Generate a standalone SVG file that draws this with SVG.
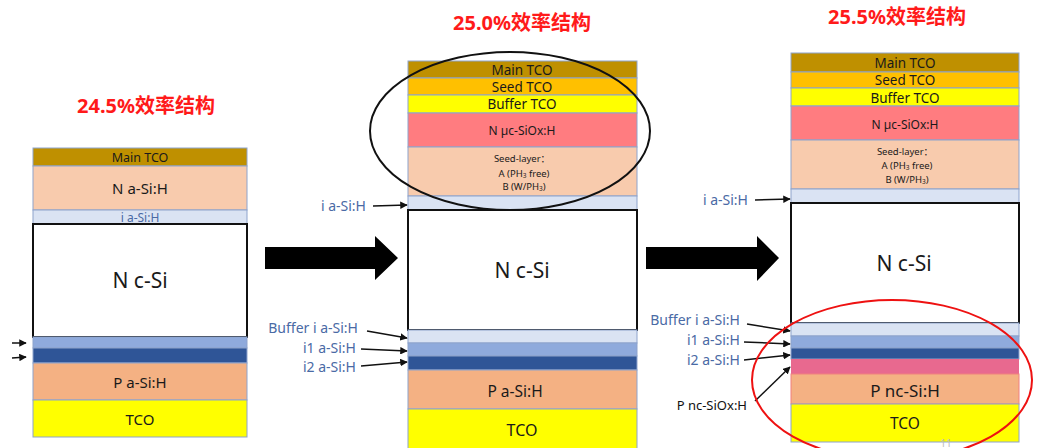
<svg xmlns="http://www.w3.org/2000/svg" width="1037" height="448" viewBox="0 0 1037 448">
<style>
text{font-family:"Noto Sans","Open Sans","Noto Sans CJK SC",sans-serif;text-anchor:middle;dominant-baseline:central;fill:#1a1a1a}
.title{font-size:20px;font-weight:bold;fill:#ff1a1a}
.ly{stroke:#8ea3cc;stroke-width:1}
.cs{fill:#fff;stroke:#111;stroke-width:2}
.lb{fill:#4a6aa5;text-anchor:end;font-size:14px}
.t11{font-size:12px}
.t12{font-size:13.5px}
.t13{font-size:15px}
.t14{font-size:16px}
.t9{font-size:9.5px}
.big{font-size:21px}
.ln{stroke:#111;stroke-width:1.5;fill:none;marker-end:url(#ah)}
</style>
<defs>
<marker id="ah" viewBox="0 0 10 10" refX="9" refY="5" markerWidth="5" markerHeight="5" orient="auto"><path d="M0,0 L10,5 L0,10 z" fill="#111"/></marker>
</defs>
<rect width="1037" height="448" fill="#fff"/>

<g id="stack1">
<text class="title" x="146" y="105">24.5%效率结构</text>
<rect class="ly" x="33" y="148" width="214" height="18" fill="#bf9000"/>
<text x="140" y="157" style="font-size:12.5px">Main TCO</text>
<rect class="ly" x="33" y="166" width="214" height="44" fill="#f8cbad"/>
<text class="t13" x="140" y="188">N a-Si:H</text>
<rect class="ly" x="33" y="210" width="214" height="14" fill="#dae3f3"/>
<text x="140" y="217" style="fill:#4a6aa5;font-size:12px">i a-Si:H</text>
<rect class="cs" x="33" y="224" width="214" height="113"/>
<text class="big" x="140" y="280">N c-Si</text>
<rect class="ly" x="33" y="337" width="214" height="11" fill="#8faadc"/>
<rect class="ly" x="33" y="348" width="214" height="15" fill="#2f5597"/>
<rect class="ly" x="33" y="363" width="214" height="37" fill="#f4b183"/>
<text class="t13" x="140" y="382">P a-Si:H</text>
<rect class="ly" x="33" y="400" width="214" height="37" fill="#ffff00"/>
<text class="t13" x="140" y="419">TCO</text>
</g>

<g id="stack2">
<text class="title" x="522" y="22">25.0%效率结构</text>
<rect class="ly" x="408" y="61" width="229" height="17" fill="#bf9000"/>
<text class="t12" x="522" y="70">Main TCO</text>
<rect class="ly" x="408" y="78" width="229" height="17" fill="#ffc000"/>
<text class="t12" x="522" y="87">Seed TCO</text>
<rect class="ly" x="408" y="95" width="229" height="18" fill="#ffff00"/>
<text class="t12" x="522" y="104">Buffer TCO</text>
<rect class="ly" x="408" y="113" width="229" height="34" fill="#ff7c80"/>
<text class="t11" x="522" y="130">N µc-SiOx:H</text>
<rect class="ly" x="408" y="147" width="229" height="49" fill="#f8cbad"/>
<text class="t9" x="522" y="158">Seed-layer：</text>
<text class="t9" x="524" y="173">A (PH<tspan font-size="6.5" dy="2">3</tspan><tspan dy="-2"> free)</tspan></text>
<text class="t9" x="524" y="186">B (W/PH<tspan font-size="6.5" dy="2">3</tspan><tspan dy="-2">)</tspan></text>
<rect class="ly" x="408" y="196" width="229" height="14" fill="#dae3f3"/>
<rect class="cs" x="408" y="210" width="229" height="120"/>
<text class="big" x="522" y="270">N c-Si</text>
<rect class="ly" x="408" y="330" width="229" height="13" fill="#dae3f3"/>
<rect class="ly" x="408" y="343" width="229" height="13" fill="#8faadc"/>
<rect class="ly" x="408" y="356" width="229" height="14" fill="#2f5597"/>
<rect class="ly" x="408" y="370" width="229" height="39" fill="#f4b183"/>
<text x="515" y="391" style="font-size:15.5px">P a-Si:H</text>
<rect class="ly" x="408" y="409" width="229" height="45" fill="#ffff00"/>
<text class="t14" x="522" y="430">TCO</text>
</g>

<g id="stack3">
<text class="title" x="897" y="16">25.5%效率结构</text>
<rect class="ly" x="791" y="53" width="228" height="19" fill="#bf9000"/>
<text class="t12" x="905" y="63">Main TCO</text>
<rect class="ly" x="791" y="72" width="228" height="16" fill="#ffc000"/>
<text class="t12" x="905" y="80">Seed TCO</text>
<rect class="ly" x="791" y="88" width="228" height="18" fill="#ffff00"/>
<text class="t12" x="905" y="98">Buffer TCO</text>
<rect class="ly" x="791" y="106" width="228" height="34" fill="#ff7c80"/>
<text class="t11" x="905" y="124">N µc-SiOx:H</text>
<rect class="ly" x="791" y="140" width="228" height="49" fill="#f8cbad"/>
<text class="t9" x="905" y="151">Seed-layer：</text>
<text class="t9" x="907" y="165">A (PH<tspan font-size="6.5" dy="2">3</tspan><tspan dy="-2"> free)</tspan></text>
<text class="t9" x="907" y="179">B (W/PH<tspan font-size="6.5" dy="2">3</tspan><tspan dy="-2">)</tspan></text>
<rect class="ly" x="791" y="189" width="228" height="14" fill="#dae3f3"/>
<rect class="cs" x="791" y="203" width="228" height="120"/>
<text class="big" x="904" y="263">N c-Si</text>
<rect class="ly" x="791" y="323" width="228" height="13" fill="#dae3f3"/>
<rect class="ly" x="791" y="336" width="228" height="12" fill="#8faadc"/>
<rect class="ly" x="791" y="348" width="228" height="11" fill="#2f5597"/>
<rect x="791" y="359" width="228" height="15" fill="#e8698f"/>
<rect x="791" y="374" width="228" height="30" fill="#f4b183" stroke="#f08080" stroke-width="1"/>
<text x="905" y="390" style="font-size:17px">P nc-Si:H</text>
<rect class="ly" x="791" y="404" width="228" height="38" fill="#ffff00"/>
<text x="905" y="423" style="font-size:15.5px">TCO</text>
<text x="946" y="443" style="font-size:10px;fill:#bbb">11</text>
</g>

<g id="labels">
<text class="lb" x="366" y="205">i a-Si:H</text>
<text class="lb" x="358" y="327">Buffer i a-Si:H</text>
<text class="lb" x="356" y="347">i1 a-Si:H</text>
<text class="lb" x="356" y="366">i2 a-Si:H</text>
<text class="lb" x="748" y="199">i a-Si:H</text>
<text class="lb" x="740" y="319">Buffer i a-Si:H</text>
<text class="lb" x="740" y="339">i1 a-Si:H</text>
<text class="lb" x="740" y="359">i2 a-Si:H</text>
<text x="747" y="405" style="font-size:13px;text-anchor:end;fill:#111">P nc-SiOx:H</text>
</g>

<g id="connectors">
<line class="ln" x1="12" y1="343" x2="26" y2="343"/>
<line class="ln" x1="12" y1="358" x2="26" y2="357"/>
<line class="ln" x1="373" y1="206" x2="407" y2="205"/>
<line class="ln" x1="367" y1="331" x2="407" y2="338"/>
<line class="ln" x1="361" y1="349" x2="407" y2="351"/>
<line class="ln" x1="361" y1="366" x2="407" y2="362"/>
<line class="ln" x1="755" y1="200" x2="790" y2="199"/>
<line class="ln" x1="747" y1="324" x2="790" y2="331"/>
<line class="ln" x1="744" y1="342" x2="790" y2="344"/>
<line class="ln" x1="744" y1="360" x2="790" y2="355"/>
<line class="ln" x1="755" y1="401" x2="790" y2="367"/>
<path d="M265,247 H375 V236 L398,258 L375,280 V269 H265 Z" fill="#000"/>
<path d="M646,247 H757 V236 L779,258 L757,281 V269 H646 Z" fill="#000"/>
<ellipse cx="510" cy="131" rx="140" ry="79" fill="none" stroke="#111" stroke-width="2"/>
<ellipse cx="892" cy="380" rx="140" ry="80" fill="none" stroke="#ee1111" stroke-width="2"/>
</g>
</svg>
